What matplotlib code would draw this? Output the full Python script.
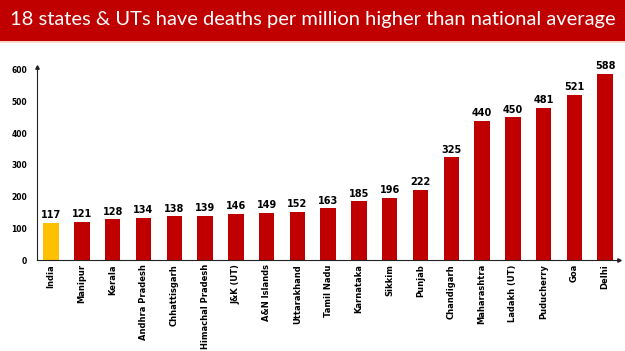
import matplotlib
matplotlib.use("Agg")
import matplotlib.pyplot as plt
from matplotlib.patches import Rectangle

regions = ["India", "Manipur", "Kerala", "Andhra Pradesh", "Chhattisgarh", "Himachal Pradesh",
           "J&K (UT)", "A&N Islands", "Uttarakhand", "Tamil Nadu", "Karnataka", "Sikkim",
           "Punjab", "Chandigarh", "Maharashtra", "Ladakh (UT)", "Puducherry", "Goa", "Delhi"]
deaths_per_million = [117, 121, 128, 134, 138, 139, 146, 149, 152, 163, 185, 196,
                      222, 325, 440, 450, 481, 521, 588]
y_ticks = [0, 100, 200, 300, 400, 500, 600]
title = "18 states & UTs have deaths per million higher than national average"

RED = "#C00000"
YELLOW = "#FFC000"

fig = plt.figure(figsize=(6.25, 3.51), dpi=100)
fig.patch.set_facecolor("white")

# title band
fig.add_artist(Rectangle((0, 1 - 41/351), 1, 41/351, transform=fig.transFigure,
                         facecolor=RED, edgecolor="none", zorder=0))
fig.add_artist(Rectangle((0, 1 - 43/351), 1, 2/351, transform=fig.transFigure,
                         facecolor="#F8D8C8", edgecolor="none", zorder=0))
fig.text(0.5, 1 - 20/351, title, color="white", fontsize=14.5, family="Lato",
         ha="center", va="center")

ax = fig.add_axes([37/625, 91/351, (619-37)/625, (284.2-91)/351])
x = list(range(len(regions)))
colors = [YELLOW] + [RED] * (len(regions) - 1)
ax.bar(x, deaths_per_million, width=0.5, color=colors, zorder=2)
for xi, v in zip(x, deaths_per_million):
    ax.text(xi, v + 8, str(v), ha="center", va="bottom", fontsize=7,
            fontweight="bold", color="black", family="DejaVu Sans")

ax.set_xlim(-0.46, len(regions) - 1 + 0.45)
ax.set_ylim(0, 610)
ax.set_yticks(y_ticks)
ax.set_yticklabels([str(t) for t in y_ticks], fontsize=5.5, fontweight="bold")
ax.set_xticks(x)
ax.set_xticklabels(regions, rotation=90, fontsize=6, fontweight="bold")
ax.tick_params(axis="x", length=0, pad=3)
ax.tick_params(axis="y", length=0, pad=7)
for s in ["top", "right"]:
    ax.spines[s].set_visible(False)
for s in ["left", "bottom"]:
    ax.spines[s].set_linewidth(0.8)
    ax.spines[s].set_color("#222222")
ax.plot(1, 0, ">", color="#222222", markersize=2.5, transform=ax.transAxes, clip_on=False)
ax.plot(0, 1, "^", color="#222222", markersize=2.5, transform=ax.transAxes, clip_on=False)

fig.savefig("out.png", dpi=100)
